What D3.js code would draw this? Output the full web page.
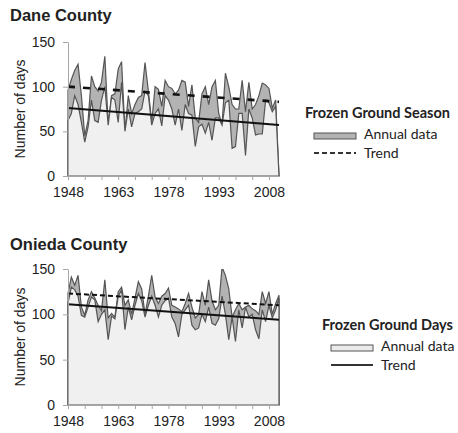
<!DOCTYPE html>
<html>
<head>
<meta charset="utf-8">
<script src="https://cdn.jsdelivr.net/npm/d3@7"></script>
<style>
  body { margin: 0; background: #fff; }
  text { font-family: "Liberation Sans", Arial, sans-serif; fill: #222; }
  .legend text { font-family: Lato, "Open Sans", sans-serif; }
</style>
</head>
<body>
<script>
/* ---------- data ---------- */
var firstYear = 1948, lastYear = 2011;
var years = d3.range(firstYear, lastYear + 1);
var xTickYears = d3.range(1948, 2012, 5);
var xTickLabels = [1948, 1963, 1978, 1993, 2008];
var yTicks = [0, 50, 100, 150];

// Dane County
var daneSeason = [96, 108, 118, 125, 90, 45, 62, 112, 100, 95, 105, 134, 58, 90, 92, 120,
                  128, 50, 90, 70, 80, 88, 90, 127, 95, 60, 100, 97, 78, 107, 100, 98,
                  92, 96, 107, 105, 78, 102, 65, 60, 92, 100, 80, 100, 107, 70, 58, 115,
                  100, 80, 75, 75, 107, 72, 105, 75, 80, 90, 104, 102, 98, 76, 85, 0];
var daneDays = [62, 70, 90, 80, 60, 38, 55, 85, 62, 60, 85, 100, 57, 88, 85, 60,
                105, 50, 75, 55, 70, 72, 75, 95, 90, 57, 70, 75, 56, 90, 85, 75,
                57, 75, 51, 80, 70, 68, 33, 55, 58, 48, 60, 40, 65, 65, 57, 82,
                85, 31, 33, 70, 70, 23, 75, 65, 46, 47, 47, 85, 82, 72, 78, 0];
var daneSeasonTrend = [100, 83];   // value at firstYear, lastYear
var daneDaysTrend = [76, 57];

// Onieda County
var oniedaSeason = [123, 141, 132, 143, 108, 99, 116, 125, 118, 110, 104, 138, 96, 101, 97, 125,
                    130, 110, 116, 100, 118, 136, 128, 100, 120, 143, 119, 112, 120, 123, 129, 110,
                    108, 106, 103, 112, 123, 108, 96, 100, 125, 110, 138, 115, 105, 110, 152, 143,
                    128, 97, 105, 112, 105, 108, 110, 106, 104, 100, 125, 112, 125, 100, 112, 121];
var oniedaDays = [112, 130, 127, 120, 99, 97, 108, 119, 116, 92, 100, 105, 72, 98, 95, 120,
                  127, 83, 108, 94, 110, 123, 115, 97, 110, 120, 110, 97, 110, 115, 118, 97,
                  90, 75, 100, 105, 110, 88, 83, 85, 100, 92, 108, 90, 88, 95, 120, 100,
                  72, 97, 70, 105, 85, 108, 97, 100, 83, 73, 105, 92, 110, 96, 105, 118];
var oniedaSeasonTrend = [123, 110];
var oniedaDaysTrend = [111, 94];

/* ---------- drawing ---------- */
var svg = d3.select("body").append("svg")
    .attr("width", 458)
    .attr("height", 433);

function drawPanel(opt) {
    var x = d3.scaleLinear().domain([firstYear, lastYear]).range([68, 279]);
    var y = d3.scaleLinear().domain([0, 150]).range([opt.bottom, opt.bottom - opt.h]);
    var g = svg.append("g");

    svg.append("text")
        .attr("x", 10)
        .attr("y", opt.bottom - 155)
        .attr("font-size", 16.5)
        .attr("font-weight", "bold")
        .text(opt.title);

    var clipId = "clip" + opt.id;
    svg.append("clipPath").attr("id", clipId)
        .append("rect")
        .attr("x", 60).attr("y", y(150))
        .attr("width", 230).attr("height", opt.h + 1);

    var plot = g.append("g").attr("clip-path", "url(#" + clipId + ")");

    var area = function(vals) {
        return d3.area()
            .x(function(d, i) { return x(years[i]); })
            .y0(y(0))
            .y1(function(d) { return y(d); })(vals);
    };

    plot.append("path")
        .attr("d", area(opt.season))
        .attr("fill", "#b3b3b3")
        .attr("stroke", "#555")
        .attr("stroke-width", 1.2);
    plot.append("path")
        .attr("d", area(opt.days))
        .attr("fill", "#f0f0f0")
        .attr("stroke", "#555")
        .attr("stroke-width", 1.2);

    var trend = d3.line()
        .x(function(d, i) { return x(i === 0 ? firstYear : lastYear); })
        .y(function(d) { return y(d); });

    plot.append("path")
        .attr("d", trend(opt.seasonTrend))
        .attr("fill", "none")
        .attr("stroke", "#111")
        .attr("stroke-width", opt.dashW)
        .attr("stroke-dasharray", opt.dash);
    plot.append("path")
        .attr("d", trend(opt.daysTrend))
        .attr("fill", "none")
        .attr("stroke", "#111")
        .attr("stroke-width", 2);

    // axes
    var yAxis = g.append("g")
        .attr("transform", "translate(68,0)")
        .call(d3.axisLeft(y).tickValues(yTicks).tickSize(5).tickSizeOuter(0).tickPadding(8));
    var xAxis = g.append("g")
        .attr("transform", "translate(0," + y(0) + ")")
        .call(d3.axisBottom(x).tickValues(xTickYears).tickSize(4).tickSizeOuter(0).tickPadding(7)
            .tickFormat(function(d) { return xTickLabels.indexOf(d) >= 0 ? d : ""; }));
    [yAxis, xAxis].forEach(function(a) {
        a.select(".domain").attr("stroke", "#a6a6a6");
        a.selectAll(".tick line").attr("stroke", "#a6a6a6");
        a.selectAll(".tick text")
            .attr("font-size", 14)
            .attr("fill", "#222")
            .style("font-family", "'Liberation Sans', Arial, sans-serif");
    });

    svg.append("text")
        .attr("transform", "translate(25," + y(75) + ") rotate(-90)")
        .attr("text-anchor", "middle")
        .attr("font-size", 14)
        .text("Number of days");

    // legend
    var lg = svg.append("g").attr("class", "legend");
    lg.append("text")
        .attr("x", opt.lx - 9).attr("y", opt.ly)
        .attr("font-size", 14.5)
        .attr("font-weight", "bold")
        .text(opt.legendTitle);
    lg.append("rect")
        .attr("x", opt.lx).attr("y", opt.ly + 15)
        .attr("width", 42).attr("height", 6)
        .attr("fill", opt.legendFill)
        .attr("stroke", "#555");
    lg.append("text")
        .attr("x", opt.lx + 50).attr("y", opt.ly + 21)
        .attr("font-size", 14)
        .text("Annual data");
    lg.append("line")
        .attr("x1", opt.lx).attr("x2", opt.lx + 42)
        .attr("y1", opt.ly + 35).attr("y2", opt.ly + 35)
        .attr("stroke", "#333")
        .attr("stroke-width", 1.8)
        .attr("stroke-dasharray", opt.legendDash);
    lg.append("text")
        .attr("x", opt.lx + 50).attr("y", opt.ly + 40)
        .attr("font-size", 14)
        .text("Trend");
}

drawPanel({
    id: "dane", title: "Dane County", bottom: 176, h: 134,
    season: daneSeason, days: daneDays,
    seasonTrend: daneSeasonTrend, daysTrend: daneDaysTrend,
    dash: "7,8", dashW: 2.6,
    legendTitle: "Frozen Ground Season", lx: 314, ly: 118,
    legendFill: "#b3b3b3", legendDash: "5,3"
});

drawPanel({
    id: "onieda", title: "Onieda County", bottom: 405, h: 136,
    season: oniedaSeason, days: oniedaDays,
    seasonTrend: oniedaSeasonTrend, daysTrend: oniedaDaysTrend,
    dash: "5,3", dashW: 2,
    legendTitle: "Frozen Ground Days", lx: 331, ly: 330,
    legendFill: "#ebebeb", legendDash: null
});
</script>
</body>
</html>
